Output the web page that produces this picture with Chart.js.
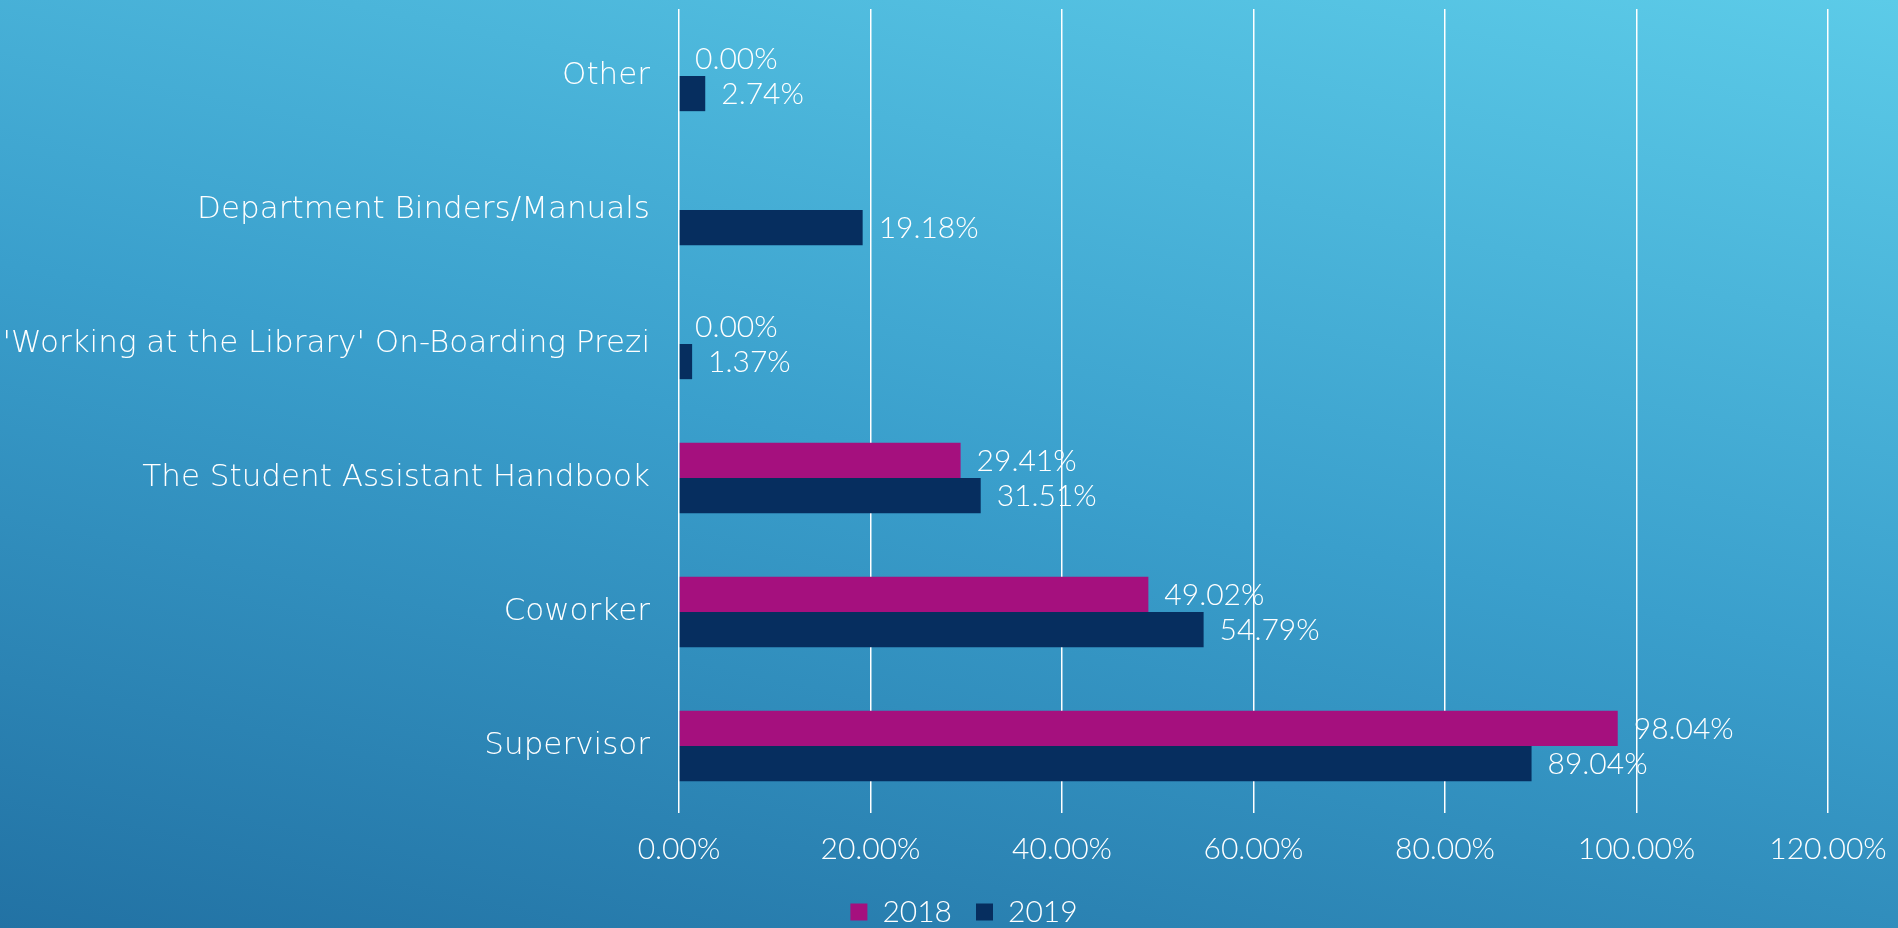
<!DOCTYPE html>
<html>
<head>
<meta charset="utf-8">
<script src="https://cdn.jsdelivr.net/npm/chart.js@4/dist/chart.umd.min.js"></script>
<style>
  html, body {
    margin: 0;
    padding: 0;
    width: 1898px;
    height: 928px;
    overflow: hidden;
  }
  body {
    background: linear-gradient(12deg, #2272a4 0%, #3a9fcc 50%, #5ccbe8 100%);
  }
  canvas {
    display: block;
  }
</style>
</head>
<body>
<canvas id="chart" width="1898" height="928"></canvas>
<script>
const categories = [
  "Other",
  "Department Binders/Manuals",
  "'Working at the Library' On-Boarding Prezi",
  "The Student Assistant Handbook",
  "Coworker",
  "Supervisor",
]
const values2018 = [0, null, 0, 29.41, 49.02, 98.04]
const values2019 = [2.74, 19.18, 1.37, 31.51, 54.79, 89.04]
const seriesNames = ["2018", "2019"]

const LABEL_FONT = "'DejaVu Sans', Lato, sans-serif"
const NUM_FONT = "Lato, 'Noto Sans', sans-serif"

// Draw the value labels just to the right of each bar end
const barLabels = {
  id: "barLabels",
  afterDatasetsDraw(chart) {
    const ctx = chart.ctx
    ctx.save()
    ctx.fillStyle = "#ffffff"
    ctx.font = "300 30px " + NUM_FONT
    ctx.textAlign = "left"
    ctx.textBaseline = "middle"
    chart.data.datasets.forEach((ds, i) => {
      const meta = chart.getDatasetMeta(i)
      meta.data.forEach((bar, j) => {
        const v = ds.data[j]
        if (v === null || v === undefined) return
        ctx.fillText(v.toFixed(2) + "%", bar.x + 16, bar.y + 1)
      })
    })
    ctx.restore()
  },
}

// nudge the legend so it sits where the original one does
const legendShift = {
  id: "legendShift",
  afterLayout(chart) {
    const lg = chart.legend
    if (!lg) return
    lg.left += 50
    lg.right += 50
    lg.top += 9
    lg.bottom += 9
  },
}

Chart.defaults.font.family = NUM_FONT
Chart.defaults.color = "#ffffff"

const ctx = document.getElementById("chart").getContext("2d")
new Chart(ctx, {
  type: "bar",
  data: {
    labels: categories,
    datasets: [
      {
        label: seriesNames[0],
        data: values2018,
        backgroundColor: "#a5107e",
        borderWidth: 0,
      },
      {
        label: seriesNames[1],
        data: values2019,
        backgroundColor: "#062e5f",
        borderWidth: 0,
      },
    ],
  },
  options: {
    indexAxis: "y",
    responsive: false,
    animation: false,
    devicePixelRatio: 1,
    categoryPercentage: 0.525,
    barPercentage: 1,
    layout: {
      padding: { left: 0, right: 70, top: 9, bottom: 0 },
    },
    scales: {
      x: {
        min: 0,
        max: 120,
        ticks: {
          stepSize: 20,
          padding: 18,
          color: "#ffffff",
          font: { family: NUM_FONT, size: 30, weight: "300" },
          callback: (v) => v.toFixed(2) + "%",
        },
        afterFit: (scale) => {
          scale.height = 51
          scale.paddingLeft = 0
          scale.paddingRight = 0
        },
        grid: {
          color: "#ffffff",
          lineWidth: 1.5,
          drawTicks: false,
        },
        border: { display: false },
      },
      y: {
        afterFit: (scale) => {
          scale.width = 679
          scale.paddingTop = 0
          scale.paddingBottom = 0
        },
        grid: { display: false, drawTicks: false },
        border: { display: false },
        ticks: {
          padding: 29,
          color: "#ffffff",
          font: { family: LABEL_FONT, size: 31, weight: "200" },
        },
      },
    },
    plugins: {
      legend: {
        position: "bottom",
        labels: {
          color: "#ffffff",
          boxWidth: 17,
          boxHeight: 17,
          padding: 24,
          font: { family: NUM_FONT, size: 30, weight: "300" },
        },
      },
      tooltip: { enabled: false },
    },
  },
  plugins: [barLabels, legendShift],
})
</script>
</body>
</html>
